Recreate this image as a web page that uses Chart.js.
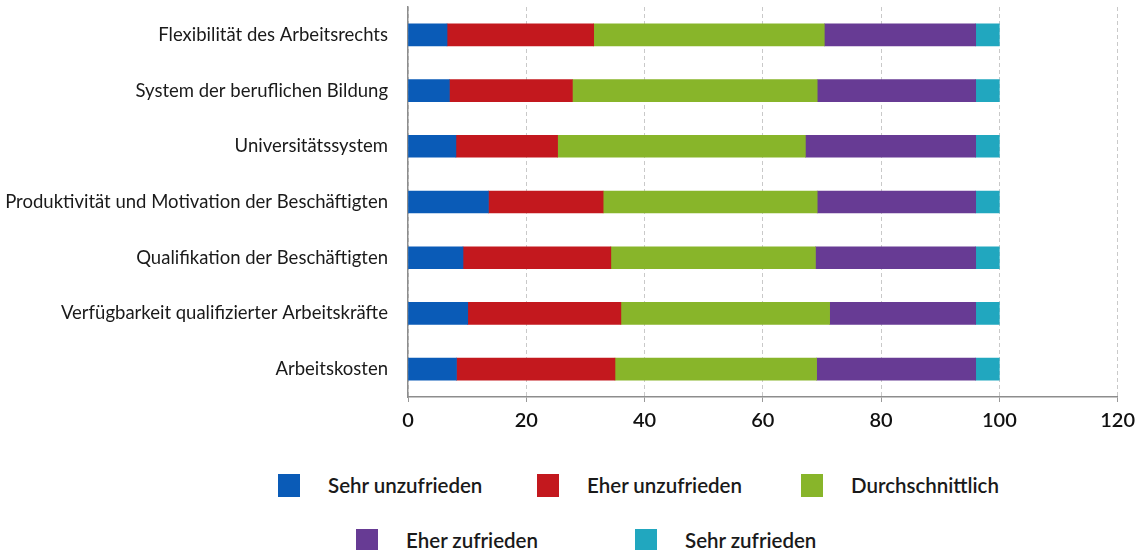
<!DOCTYPE html>
<html>
<head>
<meta charset="utf-8">
<script src="https://cdn.jsdelivr.net/npm/chart.js@4"></script>
<style>
  body { margin: 0; background: #fff; }
  #wrap { position: relative; width: 1142px; height: 550px; }
  #box { position: absolute; left: 0; top: 0; width: 1142px; height: 440px; }
  .leg { position: absolute; display: flex; align-items: center; font-family: Lato, sans-serif; font-weight: 600; font-size: 20.5px; color: #1a1a1a; white-space: nowrap; }
  .leg span.sw { display: inline-block; width: 22px; height: 23px; margin-right: 28px; }
</style>
</head>
<body>
<div id="wrap">
  <div id="box"><canvas id="chart"></canvas></div>
</div>
<script>
// categories, top to bottom
var categories = [
  'Flexibilität des Arbeitsrechts',
  'System der beruflichen Bildung',
  'Universitätssystem',
  'Produktivität und Motivation der Beschäftigten',
  'Qualifikation der Beschäftigten',
  'Verfügbarkeit qualifizierter Arbeitskräfte',
  'Arbeitskosten'
];

var seriesNames = ['Sehr unzufrieden', 'Eher unzufrieden', 'Durchschnittlich', 'Eher zufrieden', 'Sehr zufrieden'];

var sehrUnzufrieden = [6.6, 7.0, 8.1, 13.6, 9.3, 10.1, 8.2];
var eherUnzufrieden = [24.8, 20.8, 17.2, 19.4, 25.0, 25.9, 26.8];
var durchschnittlich = [39.0, 41.4, 41.9, 36.2, 34.6, 35.3, 34.1];
var eherZufrieden = [25.6, 26.8, 28.8, 26.8, 27.1, 24.7, 26.9];
var sehrZufrieden = [4.0, 4.0, 4.0, 4.0, 4.0, 4.0, 4.0];

var xTicks = [0, 20, 40, 60, 80, 100, 120];

var colors = ['#0a5bb7', '#c3181e', '#88b52a', '#673b94', '#21a7bf'];

// legend layout: two rows, [left of swatch, top of swatch]
var legendPos = [[278, 473], [537, 473], [801, 473], [356, 528], [635, 528]];

var values = [sehrUnzufrieden, eherUnzufrieden, durchschnittlich, eherZufrieden, sehrZufrieden];

var datasets = seriesNames.map(function (name, i) {
  return {
    label: name,
    data: values[i],
    backgroundColor: colors[i],
    borderWidth: 0,
    barThickness: 22
  };
});

new Chart(document.getElementById('chart'), {
  type: 'bar',
  data: { labels: categories, datasets: datasets },
  options: {
    indexAxis: 'y',
    responsive: true,
    maintainAspectRatio: false,
    animation: false,
    layout: { padding: { top: 7, right: 24, left: 0, bottom: 0 } },
    plugins: { legend: { display: false }, tooltip: { enabled: false } },
    scales: {
      x: {
        stacked: true,
        min: 0,
        max: 120,
        afterBuildTicks: function (s) { s.ticks = xTicks.map(function (v) { return { value: v }; }); },
        afterFit: function (s) { s.height = 43; },
        grid: { color: '#c9c9c9', lineWidth: 1, tickLength: 5, tickColor: '#999', tickBorderDash: [] },
        border: { display: true, color: '#8d8d8d', width: 1.5, dash: [4, 3] },
        ticks: { color: '#111', padding: 7, font: { family: 'Lato', size: 20, weight: '600' } }
      },
      y: {
        stacked: true,
        afterFit: function (s) { s.width = 408; s.paddingTop = 0; s.paddingBottom = 0; },
        // ticks hidden with the grid; tickLength only pushes the labels off the axis
        grid: { display: false, drawTicks: true, tickLength: 20 },
        border: { display: true, color: '#8d8d8d', width: 1.5 },
        ticks: { color: '#1a1a1a', padding: 0, font: { family: 'Lato', size: 18.5 } }
      }
    }
  }
});

// legend built from the same names and colours
var wrap = document.getElementById('wrap');
seriesNames.forEach(function (name, i) {
  var d = document.createElement('div');
  d.className = 'leg';
  d.style.left = legendPos[i][0] + 'px';
  d.style.top = legendPos[i][1] + 'px';
  d.innerHTML = '<span class="sw" style="background:' + colors[i] + '"></span><span>' + name + '</span>';
  wrap.appendChild(d);
});
</script>
</body>
</html>
